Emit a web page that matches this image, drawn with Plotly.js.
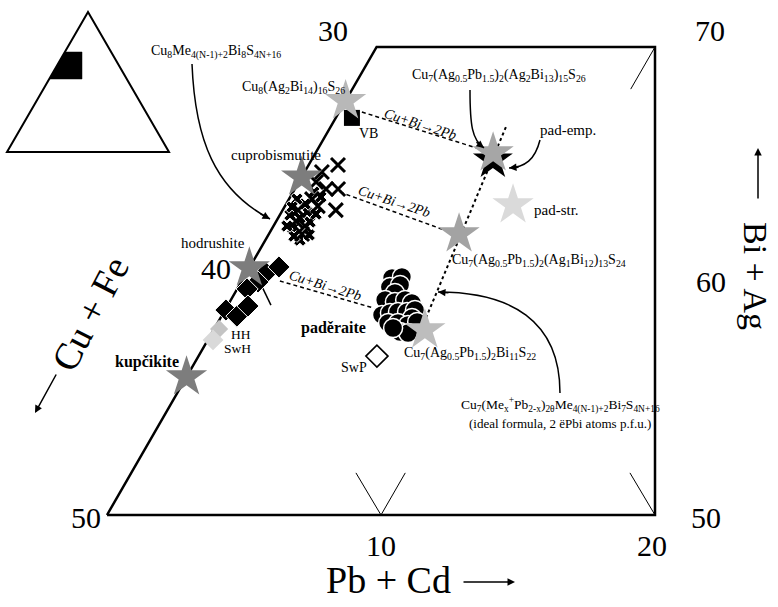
<!DOCTYPE html>
<html>
<head>
<meta charset="utf-8">
<script src="https://cdn.plot.ly/plotly-3.0.1.min.js"></script>
<style>html,body{margin:0;padding:0;background:#fff;}#chart{width:778px;height:607px;}</style>
</head>
<body>
<div id="chart"></div>
<script>
// ---------- data (ternary compositions: Pb+Cd and Bi+Ag, Cu+Fe = 100 - both) ----------
const starPb    = [0.0, 6.48, 0.0, 8.30, 6.94, 0.0, 7.71, 0.0];
const starBi    = [67.70, 65.47, 64.44, 63.25, 62.01, 60.56, 57.91, 55.90];
const starColor = ['#b8b8b8', '#a6a6a6', '#7d7d7d', '#dadada', '#a3a3a3', '#7d7d7d', '#bdbdbd', '#7d7d7d'];
const padEmpPb = [6.62];
const padEmpBi = [65.17];
const vbPb = [0.59];
const vbBi = [66.97];
const hhPb = [0.18];
const hhBi = [57.95];
const swhPb = [0.19];
const swhBi = [57.48];
const swpPb = [6.51];
const swpBi = [56.79];
const hodPb = [0.72, 1.06, 0.61, 0.36, 0.03, 0.56, 0.75];
const hodBi = [60.34, 60.60, 59.96, 59.66, 58.76, 58.50, 58.93];
const segPb = [0.71, 1.57];
const segBi = [59.92, 58.97];
const crossPb = [0.63, 1.07, 1.14, 1.58, 0.63, 0.84, 0.56, 1.15, 0.72, 1.20, 1.21, 1.94];
const crossBi = [64.66, 64.96, 63.93, 63.93, 64.23, 63.50, 63.03, 62.35, 62.56, 63.20, 62.01, 63.03];
const crossSmPb = [0.37, 0.75, 0.80, 0.93, 1.25, 1.26, 0.96, 0.69, 0.76, 1.12, 0.49, 0.29, 1.49, 1.30, 0.28];
const crossSmBi = [62.82, 62.26, 62.69, 62.95, 62.52, 61.75, 61.92, 63.29, 63.80, 63.59, 62.35, 63.50, 61.97, 62.86, 63.16];
const padPb = [5.42, 5.76, 5.53, 5.86, 5.84, 5.63, 6.03, 6.36, 6.67, 5.83, 6.08, 6.35, 6.68, 6.93, 6.99, 6.22, 6.58, 6.99, 7.26, 6.85, 7.16, 6.51];
const padBi = [60.13, 60.17, 59.74, 59.83, 59.49, 59.19, 59.10, 59.19, 59.06, 58.55, 58.63, 58.68, 58.68, 58.76, 58.42, 58.21, 58.21, 58.12, 58.25, 57.82, 57.78, 57.99];
const dotPb = [6.40, 7.51];
const dotBi = [66.58, 58.33];
const exchPb = [[0.83, 5.92], [1.71, 6.57], [1.39, 5.36]];
const exchBi = [[67.22, 65.64], [63.80, 62.09], [60.00, 58.85]];
const framePb = [0, 0, 10.16, 20, 0];
const frameBi = [50, 70, 70, 50, 50];
const tickPb = [[8.2, 10, 10], [18.2, 20], [10.16, 10.16]];
const tickBi = [[51.8, 50, 51.8], [51.8, 50], [68.2, 70]];

// ---------- projection of the distorted ternary section ----------
const SKEW = 0.492;
function px(pb, bi) { return pb.map((p, i) => p + SKEW * (bi[i] - 50)); }

const W = 778, H = 607;
const FONT = 'Liberation Serif, Times New Roman, serif';
const P = x => x / W, Q = y => 1 - y / H;

function line(pb, bi, w, dash) {
  return {type: 'scatter', mode: 'lines', x: px(pb, bi), y: bi, hoverinfo: 'skip',
          line: {color: '#000', width: w, dash: dash || 'solid'}, showlegend: false};
}
function pts(pb, bi, marker) {
  return {type: 'scatter', mode: 'markers', x: px(pb, bi), y: bi, hoverinfo: 'skip',
          marker: marker, showlegend: false};
}

const traces = [];
traces.push(line(framePb, frameBi, 2.5));
tickPb.forEach((t, i) => traces.push(line(t, tickBi[i], 1)));
exchPb.forEach((t, i) => traces.push(line(t, exchBi[i], 1.5, '4px,3px')));
traces.push(line(dotPb, dotBi, 2, 'dot'));
traces.push(line(segPb, segBi, 1.5));
traces.push(pts(swpPb, swpBi, {symbol: 'diamond-open', size: 17, color: '#000', line: {width: 1.6, color: '#000'}}));
traces.push(pts(padPb, padBi, {symbol: 'circle', size: 19, color: '#000', line: {width: 1.5, color: '#fff'}}));
traces.push(pts(crossSmPb, crossSmBi, {symbol: 'x', size: 11, color: '#000', line: {width: 1, color: '#fff'}}));
traces.push(pts(crossPb, crossBi, {symbol: 'x-thin', size: 14, color: '#000', line: {width: 3, color: '#000'}}));
traces.push(pts(hodPb, hodBi, {symbol: 'diamond', size: 17, color: '#000', line: {width: 1, color: '#fff'}}));
traces.push(pts(hhPb, hhBi, {symbol: 'diamond', size: 14, color: '#c4c4c4', line: {width: 0}}));
traces.push(pts(swhPb, swhBi, {symbol: 'diamond', size: 16, color: '#d9d9d9', line: {width: 0}}));
traces.push(pts(vbPb, vbBi, {symbol: 'square', size: 16, color: '#000', line: {width: 0}}));
traces.push(pts(padEmpPb, padEmpBi, {symbol: 'star', size: 30, color: '#000', line: {width: 0}}));
traces.push(pts(starPb, starBi, {symbol: 'star', size: 31, color: starColor, line: {width: 0}}));

// ---------- labels ----------
function ann(text, x, y, size, extra) {
  return Object.assign({xref: 'paper', yref: 'paper', x: P(x), y: Q(y), text: text, showarrow: false,
    xanchor: 'center', yanchor: 'middle', font: {family: FONT, size: size, color: '#000'}}, extra || {});
}
function head(x, y, ax, ay, w) {
  return {xref: 'paper', yref: 'paper', x: P(x), y: Q(y), text: '', showarrow: true, ax: ax, ay: ay,
    arrowhead: 2, arrowsize: 1, arrowwidth: w || 1.5, arrowcolor: '#000', standoff: 0};
}
const annotations = [
  ann('30', 333, 30, 30), ann('70', 710, 30, 30), ann('40', 216, 268, 30), ann('60', 711, 281, 30),
  ann('50', 86, 517, 30), ann('50', 706, 517, 30), ann('10', 381, 545, 30), ann('20', 652, 545, 30),
  ann('Pb + Cd', 388, 580, 38), ann('Bi + Ag', 756, 276, 34, {textangle: 90}),
  ann('Cu + Fe', 90, 314, 38, {textangle: -62.5}),
  ann('Cu<sub>8</sub>Me<sub>4(N-1)+2</sub>Bi<sub>8</sub>S<sub>4N+16</sub>', 216, 52, 14),
  ann('Cu<sub>8</sub>(Ag<sub>2</sub>Bi<sub>14</sub>)<sub>16</sub>S<sub>26</sub>', 293, 88, 14),
  ann('VB', 368, 133, 14),
  ann('Cu<sub>7</sub>(Ag<sub>0.5</sub>Pb<sub>1.5</sub>)<sub>2</sub>(Ag<sub>2</sub>Bi<sub>13</sub>)<sub>15</sub>S<sub>26</sub>', 499, 75, 14),
  ann('pad-emp.', 568, 130, 15),
  ann('cuprobismutite', 276, 155, 15),
  ann('pad-str.', 556, 210, 15),
  ann('Cu<sub>7</sub>(Ag<sub>0.5</sub>Pb<sub>1.5</sub>)<sub>2</sub>(Ag<sub>1</sub>Bi<sub>12</sub>)<sub>13</sub>S<sub>24</sub>', 539, 260, 14),
  ann('hodrushite', 213, 243, 15),
  ann('HH', 241, 334, 13.5),
  ann('SwH', 237, 348, 13.5),
  ann('<b>kupčikite</b>', 147, 362, 16),
  ann('<b>paděraite</b>', 333, 328, 16),
  ann('SwP', 354, 367, 14),
  ann('Cu<sub>7</sub>(Ag<sub>0.5</sub>Pb<sub>1.5</sub>)<sub>2</sub>Bi<sub>11</sub>S<sub>22</sub>', 470, 353, 14),
  ann('Cu<sub>7</sub>(Me<sub>x</sub><sup>+</sup>Pb<sub>2-x</sub>)<sub>2θ</sub>Me<sub>4(N-1)+2</sub>Bi<sub>7</sub>S<sub>4N+16</sub>', 560, 405, 13.5),
  ann('(ideal formula, 2 ëPbi atoms p.f.u.)', 560, 423, 13),
  ann('<i>Cu+Bi→2Pb</i>', 421, 124, 14, {textangle: 17.5}),
  ann('<i>Cu+Bi→2Pb</i>', 394, 201, 14, {textangle: 18}),
  ann('<i>Cu+Bi→2Pb</i>', 325, 285, 14, {textangle: 17}),
  // arrowheads
  head(270, 219, -11, -6), head(484, 148, -9, -7), head(509, 168, 11, -1), head(438, 292, 12, 1),
  head(35, 413, 22, -40, 1.5), head(758, 148, 0, 52, 1.5), head(515, 582, -53, 0, 1.5)
];

// ---------- decorative shapes (pixel positions converted to paper) ----------
function pt(x, y) { return P(x).toFixed(5) + ',' + Q(y).toFixed(5); }
function cubic(a, b, c, d) { return 'M' + pt(a[0], a[1]) + ' C' + pt(b[0], b[1]) + ' ' + pt(c[0], c[1]) + ' ' + pt(d[0], d[1]); }
function poly(list, close) { return 'M' + list.map(p => pt(p[0], p[1])).join(' L') + (close ? ' Z' : ''); }
const shapes = [
  {type: 'path', xref: 'paper', yref: 'paper', path: cubic([192, 64], [195, 140], [215, 190], [270, 219]), line: {color: '#000', width: 1.5}},
  {type: 'path', xref: 'paper', yref: 'paper', path: cubic([470, 90], [470, 125], [472, 140], [484, 148]), line: {color: '#000', width: 1.5}},
  {type: 'path', xref: 'paper', yref: 'paper', path: cubic([540, 140], [535, 160], [525, 167], [509, 168]), line: {color: '#000', width: 1.5}},
  {type: 'path', xref: 'paper', yref: 'paper', path: cubic([560, 393], [560, 320], [510, 292], [438, 292]), line: {color: '#000', width: 1.5}},
  // inset triangle
  {type: 'path', xref: 'paper', yref: 'paper', path: poly([[88, 12], [7, 152], [169, 152]], true), line: {color: '#000', width: 2}},
  {type: 'path', xref: 'paper', yref: 'paper', path: poly([[65, 52], [82, 52], [82, 79], [49.5, 79]], true), line: {color: '#000', width: 0.5}, fillcolor: '#000'}
];

const layout = {
  width: W, height: H, margin: {l: 0, r: 0, t: 0, b: 0},
  paper_bgcolor: '#fff', plot_bgcolor: '#fff', showlegend: false,
  xaxis: {range: [-107 / 27.4, (W - 107) / 27.4], visible: false, fixedrange: true},
  yaxis: {range: [50 - (H - 515) / 23.4, 50 + 515 / 23.4], visible: false, fixedrange: true},
  annotations: annotations, shapes: shapes
};
Plotly.newPlot('chart', traces, layout, {displayModeBar: false, staticPlot: true});
</script>
</body>
</html>
